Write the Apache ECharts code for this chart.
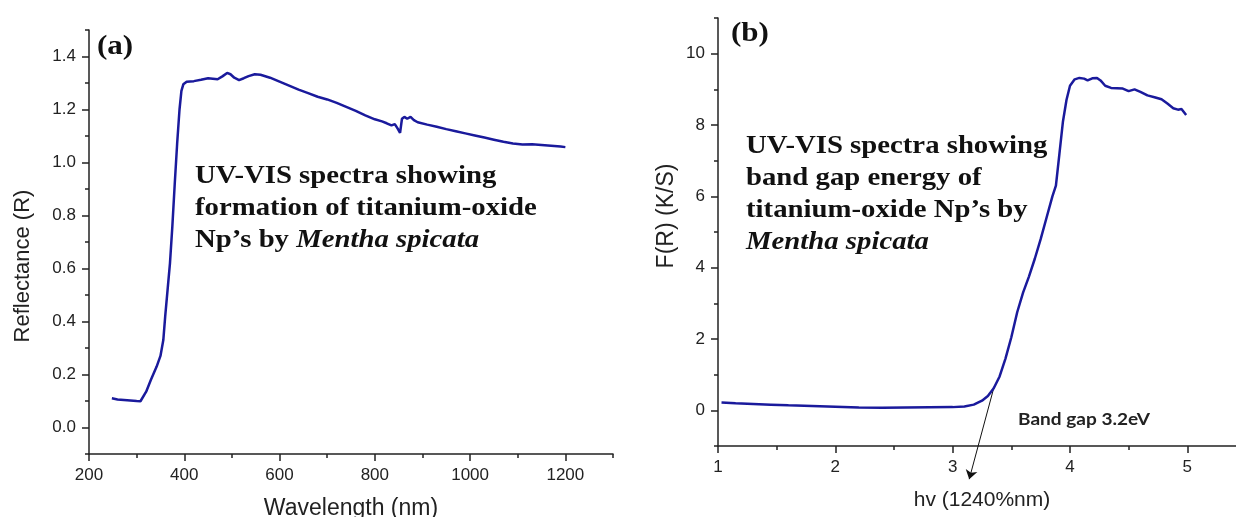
<!DOCTYPE html>
<html>
<head>
<meta charset="utf-8">
<script src="https://cdn.jsdelivr.net/npm/echarts@6/dist/echarts.min.js"></script>
<style>
  html, body { margin: 0; padding: 0; background: #fff; }
  #chart { width: 1236px; height: 517px; }
</style>
</head>
<body>
<div id="chart"></div>
<script>
// (a) reflectance spectrum
var wavelengthNm = [248, 260, 280, 300, 308, 312, 320, 330, 342, 350, 356, 360, 365, 370, 375, 380, 385, 390, 394, 398,
  405, 420, 435, 450, 460, 470, 480, 490, 497, 505, 515, 525, 535, 548, 560, 580, 600, 620, 640, 660,
  680, 700, 720, 740, 760, 780, 800, 815, 825, 835, 842, 848, 853, 857, 862, 868, 875, 882, 890, 910,
  930, 950, 970, 990, 1010, 1030, 1050, 1070, 1090, 1110, 1130, 1150, 1170, 1190, 1200]
var reflectance = [0.110, 0.106, 0.103, 0.100, 0.099, 0.102, 0.135, 0.180, 0.230, 0.270, 0.330, 0.420, 0.520, 0.620, 0.760, 0.920, 1.070, 1.200, 1.270, 1.295,
  1.305, 1.307, 1.312, 1.318, 1.316, 1.314, 1.325, 1.338, 1.333, 1.320, 1.311, 1.318, 1.326, 1.333, 1.331, 1.320, 1.305, 1.290, 1.275, 1.262,
  1.248, 1.238, 1.225, 1.210, 1.195, 1.178, 1.163, 1.155, 1.148, 1.140, 1.145, 1.128, 1.112, 1.165, 1.172, 1.165, 1.172, 1.160, 1.152, 1.143,
  1.135, 1.126, 1.118, 1.110, 1.102, 1.094, 1.086, 1.078, 1.072, 1.068, 1.069, 1.066, 1.063, 1.060, 1.058]

// (b) Kubelka-Munk function vs photon energy
var photonEnergy = [1.03, 1.15, 1.30, 1.45, 1.60, 1.80, 2.00, 2.20, 2.40, 2.60, 2.80, 3.00, 3.10, 3.18, 3.25, 3.30, 3.35, 3.40, 3.45, 3.50,
  3.55, 3.60, 3.65, 3.70, 3.75, 3.80, 3.85, 3.88, 3.91, 3.94, 3.97, 4.00, 4.04, 4.08, 4.12, 4.15, 4.19, 4.23, 4.26, 4.30,
  4.35, 4.40, 4.45, 4.50, 4.55, 4.60, 4.66, 4.72, 4.78, 4.83, 4.88, 4.92, 4.95, 4.99]
var kubelkaMunk = [0.22, 0.20, 0.18, 0.16, 0.14, 0.12, 0.10, 0.08, 0.075, 0.08, 0.085, 0.09, 0.11, 0.16, 0.27, 0.40, 0.62, 0.95, 1.45, 2.05,
  2.75, 3.30, 3.75, 4.25, 4.80, 5.40, 6.00, 6.30, 7.20, 8.10, 8.70, 9.10, 9.28, 9.32, 9.30, 9.25, 9.31, 9.32, 9.25, 9.10,
  9.04, 9.03, 9.02, 8.95, 9.00, 8.93, 8.83, 8.78, 8.72, 8.60, 8.47, 8.43, 8.45, 8.28]

// band gap arrow, from the curve down past the axis
var bandGapArrow = [[3.354, 0.67], [3.141, -1.93]]

var ticksA_x = [200, 400, 600, 800, 1000, 1200]
var minorA_x = [300, 500, 700, 900, 1100, 1300]
var ticksA_y = [0, 0.2, 0.4, 0.6, 0.8, 1.0, 1.2, 1.4]
var minorA_y = [-0.1, 0.1, 0.3, 0.5, 0.7, 0.9, 1.1, 1.3, 1.5]
var ticksB_x = [1, 2, 3, 4, 5]
var minorB_x = [1.5, 2.5, 3.5, 4.5, 5.5]
var ticksB_y = [0, 2, 4, 6, 8, 10]
var minorB_y = [-1, 1, 3, 5, 7, 9, 11]

var lineColor = '#1a1a9c'
var axisColor = '#222'
var sans = '"Liberation Sans", Arial, sans-serif'
var serif = '"Liberation Serif", "Times New Roman", serif'

function zip (xs, ys) {
  return xs.map(function (x, i) { return [x, ys[i]] })
}

function mainAxis (grid, pos, min, max, ticks, digits, extra) {
  var ax = {
    type: 'value',
    gridIndex: grid,
    position: pos,
    min: min,
    max: max,
    splitLine: { show: false },
    axisLine: { onZero: false, lineStyle: { color: axisColor, width: 1.5 } },
    axisTick: { inside: false, length: 7, customValues: ticks, lineStyle: { color: axisColor, width: 1.5 } },
    axisLabel: {
      customValues: ticks, color: axisColor, fontSize: 17, fontFamily: sans, margin: 13,
      formatter: function (v) { return Number(v).toFixed(digits) }
    },
    nameLocation: 'middle'
  }
  return Object.assign(ax, extra)
}

function minorAxis (grid, pos, min, max, ticks) {
  return {
    type: 'value',
    gridIndex: grid,
    position: pos,
    min: min,
    max: max,
    splitLine: { show: false },
    axisLine: { show: false, onZero: false },
    axisTick: { inside: false, length: 4, customValues: ticks, lineStyle: { color: axisColor, width: 1.5 } },
    axisLabel: { show: false }
  }
}

var option = {
  backgroundColor: '#fff',
  animation: false,
  grid: [
    { left: 89, right: 623, top: 30, bottom: 63, outerBoundsMode: 'none' },
    { left: 718, right: -10, top: 18, bottom: 71, outerBoundsMode: 'none' }
  ],
  xAxis: [
    mainAxis(0, 'bottom', 200, 1300, ticksA_x, 0, {
      name: 'Wavelength (nm)', nameGap: 43,
      nameTextStyle: { fontSize: 23, fontFamily: sans, color: axisColor }
    }),
    minorAxis(0, 'bottom', 200, 1300, minorA_x),
    mainAxis(1, 'bottom', 1, 5.5, ticksB_x, 0, {
      name: 'hv (1240%nm)', nameGap: 44,
      nameTextStyle: { fontSize: 21, fontFamily: sans, color: axisColor }
    }),
    minorAxis(1, 'bottom', 1, 5.5, minorB_x)
  ],
  yAxis: [
    mainAxis(0, 'left', -0.1, 1.5, ticksA_y, 1, {
      name: 'Reflectance (R)', nameGap: 55,
      nameTextStyle: { fontSize: 22, fontFamily: sans, color: axisColor, padding: [0, 48, 0, 0] }
    }),
    minorAxis(0, 'left', -0.1, 1.5, minorA_y),
    mainAxis(1, 'left', -1, 11, ticksB_y, 0, {
      name: 'F(R) (K/S)', nameGap: 40,
      nameTextStyle: { fontSize: 23, fontFamily: sans, color: axisColor, padding: [0, 0, 0, 32] }
    }),
    minorAxis(1, 'left', -1, 11, minorB_y)
  ],
  series: [
    {
      type: 'line',
      xAxisIndex: 0,
      yAxisIndex: 0,
      data: zip(wavelengthNm, reflectance),
      showSymbol: false,
      lineStyle: { color: lineColor, width: 2.5 }
    },
    {
      type: 'line',
      xAxisIndex: 2,
      yAxisIndex: 2,
      data: zip(photonEnergy, kubelkaMunk),
      showSymbol: false,
      lineStyle: { color: lineColor, width: 2.5 }
    },
    {
      type: 'lines',
      coordinateSystem: 'cartesian2d',
      xAxisIndex: 2,
      yAxisIndex: 2,
      clip: false,
      symbol: ['none', 'arrow'],
      symbolSize: 9,
      lineStyle: { color: '#111', width: 1, opacity: 1 },
      data: [{ coords: bandGapArrow }]
    }
  ],
  graphic: [
    {
      type: 'text', x: 97, y: 47, scaleX: 1.15,
      style: { text: '(a)', font: 'bold 27px ' + serif, fill: '#111', verticalAlign: 'middle' }
    },
    {
      type: 'text', x: 731, y: 34, scaleX: 1.15,
      style: { text: '(b)', font: 'bold 27px ' + serif, fill: '#111', verticalAlign: 'middle' }
    },
    {
      type: 'text', x: 195, y: 161, scaleX: 1.15,
      style: {
        text: '{b|UV-VIS spectra showing}\n{b|formation of titanium-oxide}\n{b|Np’s by }{i|Mentha spicata}',
        verticalAlign: 'top',
        fill: '#111',
        rich: {
          b: { fontFamily: serif, fontWeight: 'bold', fontSize: 25, lineHeight: 32, fill: '#111' },
          i: { fontFamily: serif, fontWeight: 'bold', fontStyle: 'italic', fontSize: 25, lineHeight: 32, fill: '#111' }
        }
      }
    },
    {
      type: 'text', x: 746, y: 131, scaleX: 1.15,
      style: {
        text: '{b|UV-VIS spectra showing}\n{b|band gap energy of}\n{b|titanium-oxide Np’s by}\n{i|Mentha spicata}',
        verticalAlign: 'top',
        fill: '#111',
        rich: {
          b: { fontFamily: serif, fontWeight: 'bold', fontSize: 25, lineHeight: 32, fill: '#111' },
          i: { fontFamily: serif, fontWeight: 'bold', fontStyle: 'italic', fontSize: 25, lineHeight: 32, fill: '#111' }
        }
      }
    },
    {
      type: 'text', x: 1018, y: 420, scaleX: 1.12,
      style: { text: 'Band gap 3.2eV', font: 'bold 17px Lato, "Open Sans", sans-serif', fill: '#222', verticalAlign: 'middle' }
    }
  ]
}

var chart = echarts.init(document.getElementById('chart'))
chart.setOption(option)
</script>
</body>
</html>
